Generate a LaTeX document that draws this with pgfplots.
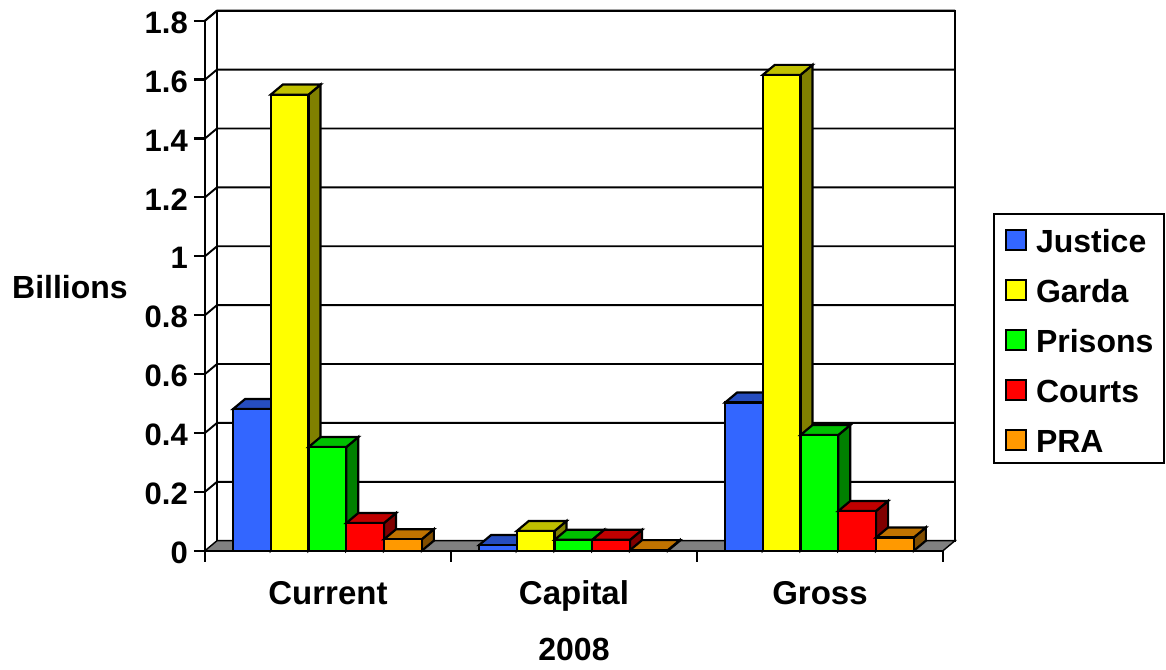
\documentclass[border=0pt]{standalone}
\usepackage{fontspec}
\setmainfont{Liberation Sans}
\usepackage{pgfplots}
\pgfplotsset{compat=1.18}

\definecolor{justice}{HTML}{3366FF}\definecolor{justicetop}{HTML}{264DBF}\definecolor{justiceside}{HTML}{1A3380}
\definecolor{garda}{HTML}{FFFF00}\definecolor{gardatop}{HTML}{C0C000}\definecolor{gardaside}{HTML}{808000}
\definecolor{prisons}{HTML}{00FF00}\definecolor{prisonstop}{HTML}{00C000}\definecolor{prisonsside}{HTML}{008000}
\definecolor{courts}{HTML}{FF0000}\definecolor{courtstop}{HTML}{C00000}\definecolor{courtsside}{HTML}{800000}
\definecolor{pra}{HTML}{FF9900}\definecolor{pratop}{HTML}{C07300}\definecolor{praside}{HTML}{804D00}

% Depth of the oblique projection and bar width, in axis units
\newcommand{\dx}{0.0488}
\newcommand{\dy}{0.034}
\newcommand{\barw}{0.1535}

% One oblique bar: left edge, value, colour family
\newcommand{\solidbar}[3]{%
  \pgfmathsetmacro\xa{#1}%
  \pgfmathsetmacro\xb{#1+\barw}%
  \pgfmathsetmacro\xc{#1+\dx}%
  \pgfmathsetmacro\xd{#1+\barw+\dx}%
  \pgfmathsetmacro\ya{#2}%
  \pgfmathsetmacro\yb{#2+\dy}%
  \addplot[fill=#3side,barline,forget plot] coordinates {(\xb,0)(\xd,\dy)(\xd,\yb)(\xb,\ya)} --cycle;
  \addplot[fill=#3top,barline,forget plot] coordinates {(\xa,\ya)(\xb,\ya)(\xd,\yb)(\xc,\yb)} --cycle;
  \addplot[fill=#3,barline,forget plot] coordinates {(\xa,0)(\xb,0)(\xb,\ya)(\xa,\ya)} --cycle;
}
% Five departments of one category
\newcommand{\barfamily}[6]{%
  \pgfmathsetmacro\gs{#1+0.114}%
  \pgfmathsetmacro\ga{\gs}\solidbar{\ga}{#2}{justice}%
  \pgfmathsetmacro\ga{\gs+\barw}\solidbar{\ga}{#3}{garda}%
  \pgfmathsetmacro\ga{\gs+2*\barw}\solidbar{\ga}{#4}{prisons}%
  \pgfmathsetmacro\ga{\gs+3*\barw}\solidbar{\ga}{#5}{courts}%
  \pgfmathsetmacro\ga{\gs+4*\barw}\solidbar{\ga}{#6}{pra}%
}
% Gridline across the left wall and the back wall
\newcommand{\wallgrid}[1]{%
  \pgfmathsetmacro\yb{#1+\dy}%
  \pgfmathsetmacro\xd{3+\dx}%
  \addplot[black,line width=1.9pt,forget plot] coordinates {(0,#1)(\dx,\yb)(\xd,\yb)};
}

\begin{document}
\begin{tikzpicture}[x=1pt,y=1pt]
\path[use as bounding box] (-205,-118.3) rectangle (961,550.7);
\begin{axis}[
  scale only axis, width=738pt, height=530pt,
  xmin=0, xmax=3, ymin=0, ymax=1.8,
  clip=false,
  axis lines*=left,
  axis line style={line width=2.2pt,black},
  tick style={line width=2.2pt,black},
  major tick length=11pt,
  tick align=outside,
  xtick={0,1,2,3},
  xticklabels={Current,Capital,Gross},
  x tick label as interval,
  ytick={0,0.2,0.4,0.6,0.8,1,1.2,1.4,1.6,1.8},
  /pgf/number format/assume math mode=true,
  xticklabel style={font=\fontsize{33}{36}\selectfont\bfseries,yshift=-16pt,text height=23pt,text depth=7pt},
  yticklabel style={font=\fontsize{31}{36}\selectfont\bfseries,inner sep=0pt,xshift=-6pt,yshift=-2pt},
  xlabel={2008},
  ylabel={Billions},
  every axis x label/.style={at={(axis description cs:0.5,-0.1855)},anchor=center,font=\fontsize{32}{36}\selectfont\bfseries},
  every axis y label/.style={at={(axis description cs:-0.183,0.4975)},anchor=center,font=\fontsize{32}{36}\selectfont\bfseries},
  barline/.style={draw=black,line width=2.2pt,line join=miter},
  legend image code/.code={%
    \draw[#1,draw=black,line width=1.9pt] (0pt,-11.5pt) rectangle (20pt,8.5pt);
    \path (29.5pt,0pt);},
  legend cell align=left,
  legend style={
    at={(1.0673,0.6377)},anchor=north west,
    draw=black,line width=1.9pt,
    inner xsep=11pt,inner ysep=10pt,
    row sep=21pt,
    nodes={inner sep=0pt,font=\fontsize{32}{36}\selectfont\bfseries,text height=29pt,text depth=0pt,line width=1.9pt},
  },
]
% Back wall, left wall and floor
\addplot[fill=white,draw=black,line width=1.9pt,forget plot] coordinates {(\dx,\dy)(3.0488,0.034)(3.0488,1.834)(\dx,1.834)} --cycle;
\addplot[fill=gray,draw=black,line width=1.4pt,forget plot] coordinates {(0,0)(3,0)(3.0488,0.034)(0.0488,0.034)} --cycle;
\addplot[black,line width=1.9pt,forget plot] coordinates {(0,1.8)(0.0488,1.834)};
\wallgrid{0.2}\wallgrid{0.4}\wallgrid{0.6}\wallgrid{0.8}\wallgrid{1}
\wallgrid{1.2}\wallgrid{1.4}\wallgrid{1.6}\wallgrid{1.8}
% Justice, Garda, Prisons, Courts, PRA
\barfamily{0}{0.481}{1.549}{0.352}{0.094}{0.039}
\barfamily{1}{0.019}{0.067}{0.037}{0.037}{0.002}
\barfamily{2}{0.503}{1.616}{0.393}{0.135}{0.045}
\addlegendimage{fill=justice}\addlegendentry{Justice}
\addlegendimage{fill=garda}\addlegendentry{Garda}
\addlegendimage{fill=prisons}\addlegendentry{Prisons}
\addlegendimage{fill=courts}\addlegendentry{Courts}
\addlegendimage{fill=pra}\addlegendentry{PRA}
\end{axis}
\end{tikzpicture}
\end{document}
